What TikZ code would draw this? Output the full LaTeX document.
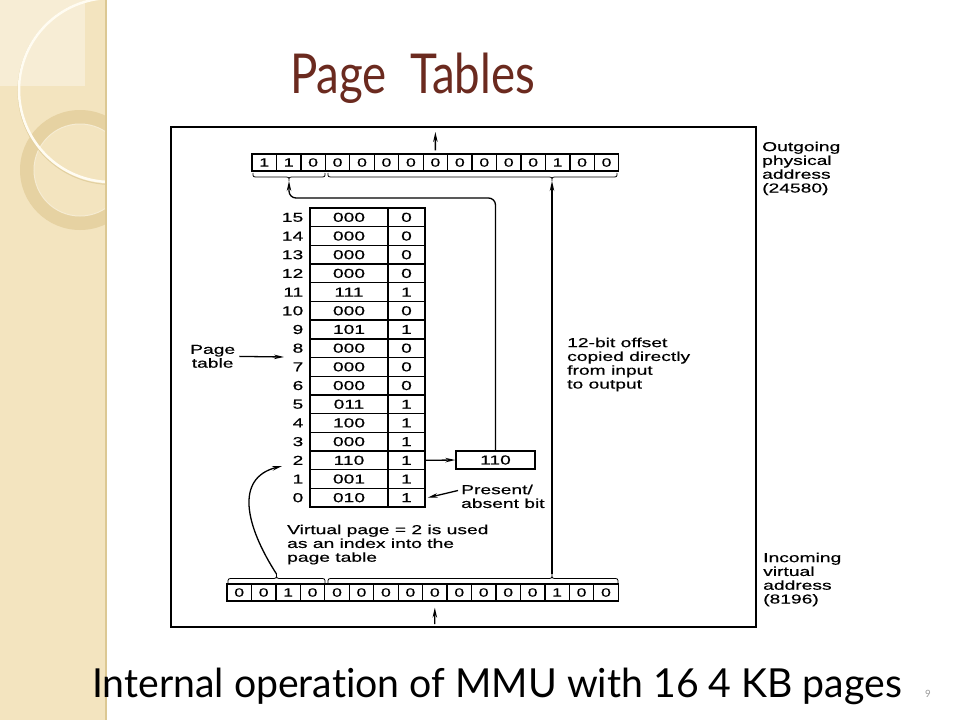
\documentclass[tikz,border=0pt]{standalone}
\usepackage{fontspec}
\setmainfont{Liberation Sans}
\newfontfamily\figfont[FakeStretch=1.48,FakeBold=0.5]{Liberation Sans}
\newfontfamily\titlefont[FakeStretch=0.83,Ligatures=NoCommon]{Lato}
\newfontfamily\capfont[FakeStretch=0.98,Ligatures=NoCommon]{Lato}
\usetikzlibrary{arrows.meta}
\definecolor{stripcol}{HTML}{F3E4BF}
\definecolor{striplight}{HTML}{F7EDD5}
\definecolor{ringcol}{HTML}{E6D2A2}
\definecolor{ringedge}{HTML}{F6ECD3}
\definecolor{arccol}{HTML}{FFFCF2}
\definecolor{arcshadow}{HTML}{E2D0A0}
\definecolor{stripedge}{HTML}{DCC893}
\definecolor{titlecol}{HTML}{6B2A1F}
\definecolor{pagenumcol}{HTML}{9A9A9A}
\newcommand\mybrace[6]{%
  \draw[bracestyle] (#1,#4) .. controls (#1,#5) .. (#1+5,#5) -- (#3-5,#5)
    .. controls (#3,#5) .. (#3,#6) .. controls (#3,#5) .. (#3+5,#5)
    -- (#2-5,#5) .. controls (#2,#5) .. (#2,#4);}
\begin{document}
\begin{tikzpicture}[x=1pt,y=-1pt,
  cell/.style={draw, line width=1.3pt, minimum width=24.45pt, minimum height=17pt,
    inner sep=0pt, font=\figfont\fontsize{12}{13}\selectfont},
  fcell/.style={draw, line width=1.4pt, minimum width=78pt, minimum height=18.69pt,
    inner sep=0pt, font=\figfont\fontsize{13}{14}\selectfont},
  pcell/.style={draw, line width=1.4pt, minimum width=37pt, minimum height=18.69pt,
    inner sep=0pt, font=\figfont\fontsize{13}{14}\selectfont},
  rowlbl/.style={anchor=east, inner sep=0pt, font=\figfont\fontsize{13}{14}\selectfont},
  lbl/.style={anchor=north west, inner sep=0pt, align=left,
    font=\figfont\fontsize{13}{13.8}\selectfont},
  arr/.style={-{Stealth[length=10pt,width=4.5pt]}, line width=1.3pt},
  bracestyle/.style={line width=0.8pt},
]
\useasboundingbox (0,0) rectangle (960,720);
\fill[white] (0,0) rectangle (960,720);
% decorative strip
\begin{scope}
  \clip (0,0) rectangle (106,720);
  \fill[stripcol] (0,0) rectangle (106,720);
  \fill[striplight] (0,0) rectangle (85,86);
  \fill[ringcol, even odd rule] (80,170) circle[radius=60] (80,170) circle[radius=46];
  \draw[ringedge, line width=1pt] (80,170) circle[radius=46];
  \draw[arcshadow, line width=1pt] (111.5,91) circle[radius=93.5];
  \draw[arccol, line width=2.5pt] (111,90) circle[radius=92];
\end{scope}
\draw[stripedge, line width=1.5pt] (106,0) -- (106,720);
% title and caption
\node[anchor=base west, inner sep=0pt, text=titlecol,
  font=\titlefont\fontsize{55}{66}\selectfont] (title) at (290,93) {Page\ \ Tables};
\node[anchor=base west, inner sep=0pt,
  font=\capfont\fontsize{40}{48}\selectfont] (caption) at (92,697)
  {Internal operation of MMU with 16 4 KB pages};
\node[anchor=base west, inner sep=0pt, text=pagenumcol,
  font=\capfont\fontsize{10}{12}\selectfont] (pnum) at (925,697) {9};
% figure frame
\draw[line width=1.8pt] (171,127) rectangle (756,627);
% outgoing register
\foreach \v [count=\i from 0] in {1,1,0,0,0,0,0,0,0,0,0,0,1,0,0}
  \node[cell] (t\i) at ({252+24.45*(\i+0.5)},162.5) {\v};
% incoming register
\foreach \v [count=\i from 0] in {0,0,1,0,0,0,0,0,0,0,0,0,0,1,0,0}
  \node[cell] (b\i) at ({227+24.45*(\i+0.5)},592.5) {\v};
% braces
\mybrace{253}{325}{289}{173}{177}{181}
\mybrace{328}{617}{552}{173}{177}{181}
\mybrace{228}{325}{276.5}{583}{578.5}{574}
\mybrace{328}{618}{552}{583}{578.5}{574}
\coordinate (tb1) at (289,181);
\coordinate (tb2) at (552,181);
\coordinate (bb1) at (276.5,574);
\coordinate (bb2) at (552,574);
% page table
\foreach \r/\f/\p in {15/000/0,14/000/0,13/000/0,12/000/0,11/111/1,10/000/0,9/101/1,
  8/000/0,7/000/0,6/000/0,5/011/1,4/100/1,3/000/1,2/110/1,1/001/1,0/010/1}{
  \node[fcell] (f\r) at (349,{208+18.69*(15.5-\r)}) {\f};
  \node[pcell] (p\r) at (406.5,{208+18.69*(15.5-\r)}) {\p};
  \node[rowlbl] (l\r) at (303.5,{208+18.69*(15.5-\r)}) {\r};
}
% output page frame box
\node[draw, line width=1.4pt, minimum width=79pt, minimum height=18pt, inner sep=0pt,
  font=\figfont\fontsize{13}{14}\selectfont] (box) at (495.5,460) {110};
% labels
\node[lbl] (outlbl) at (762,141.5) {Outgoing\\physical\\address\\(24580)};
\node[lbl] (inlbl) at (763,552.5) {Incoming\\virtual\\address\\(8196)};
\node[lbl, align=center] (ptlbl) at (190,344.7) {Page\\table};
\node[lbl] (vplbl) at (287,524.5) {Virtual page = 2 is used\\as an index into the\\page table};
\node[lbl] (palbl) at (461,484.5) {Present/\\absent bit};
\node[lbl] (offlbl) at (567,337.5) {12-bit offset\\copied directly\\from input\\to output};
% connectors
\coordinate (outtop) at (435.4,132);
\coordinate (inbot) at (434.8,624);
\coordinate (ptin) at (284,357);
\coordinate (vpin) at (282,466);
\draw[arr, shorten <=3pt] (t7.north) -- (outtop);
\draw[arr, shorten >=6pt] (inbot) -- (b8.south);
\draw[arr] (bb2) -- (tb2);
\draw[arr, rounded corners=7pt] (box.north) |- ([yshift=-17pt]tb1) -- (tb1);
\draw[arr] (p2.east) -- (box.west);
\draw[arr, shorten <=4pt] (ptlbl.east) -- (ptin);
\draw[arr] ([xshift=-3pt,yshift=-6pt]palbl.north west) -- ([xshift=2pt]p0.east);
\draw[arr] (bb1) .. controls (245,525) and (235,478) .. (vpin);
\end{tikzpicture}
\end{document}
